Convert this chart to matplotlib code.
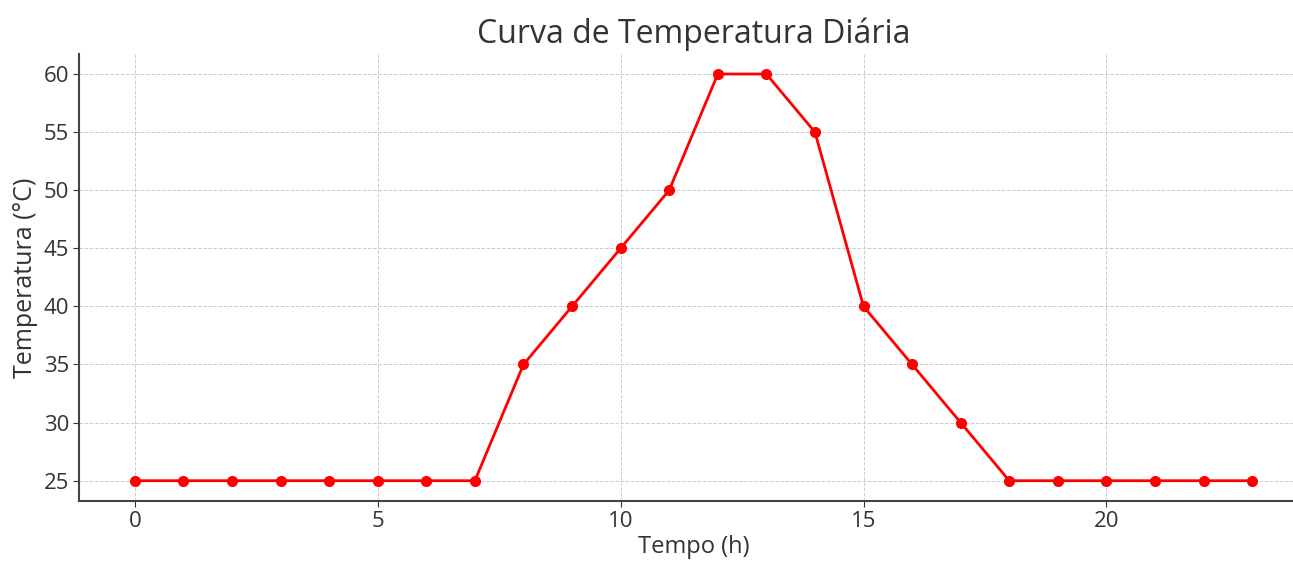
import matplotlib.pyplot as plt

# horas do dia e temperatura
horas = list(range(24))
temperatura = [25, 25, 25, 25, 25, 25, 25, 25, 35, 40, 45, 50,
               60, 60, 55, 40, 35, 30, 25, 25, 25, 25, 25, 25]

plt.rcParams['font.family'] = ['Open Sans', 'DejaVu Sans']
texto = '#333333'

fig = plt.figure(figsize=(12.93, 5.62), dpi=100)
ax = fig.add_axes([0.0611, 0.1085, 0.9505, 0.796])

ax.plot(horas, temperatura, color='red', marker='o', linewidth=2, markersize=7)

ax.set_title('Curva de Temperatura Diária', fontsize=23, color=texto, pad=8)
ax.set_xlabel('Tempo (h)', fontsize=17, color=texto, labelpad=2)
ax.set_ylabel('Temperatura (°C)', fontsize=18, color=texto, labelpad=4)
ax.tick_params(labelsize=16, colors=texto, length=4, pad=3)
ax.set_xticks([0, 5, 10, 15, 20])
ax.set_yticks(range(25, 61, 5))

ax.grid(True, linestyle='--', color='#cccccc', linewidth=0.7)
for lado in ['top', 'right']:
    ax.spines[lado].set_visible(False)
for lado in ['left', 'bottom']:
    ax.spines[lado].set_color('#444444')
    ax.spines[lado].set_linewidth(1.5)

plt.savefig('out.png', dpi=100)
